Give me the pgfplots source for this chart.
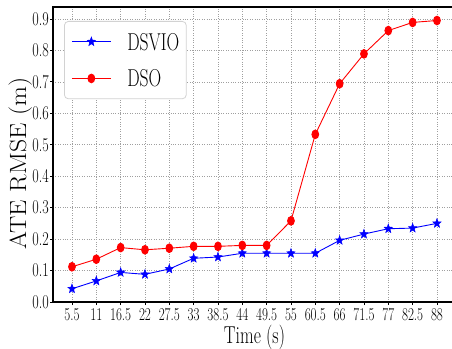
\documentclass[border=0pt]{standalone}
\usepackage{fontspec}
\setmainfont{Latin Modern Roman}[FakeStretch=0.72]
\newfontfamily\lmplain{Latin Modern Roman}
\usepackage{graphicx}
\usepackage{pgfplots}
\usepackage{pgfplotstable}
\pgfplotsset{compat=1.18}

\pgfdeclareplotmark{fstar}{%
  \pgfpathmoveto{\pgfpointpolar{90}{\pgfplotmarksize}}%
  \pgfpathlineto{\pgfpointpolar{126}{0.42\pgfplotmarksize}}%
  \pgfpathlineto{\pgfpointpolar{162}{\pgfplotmarksize}}%
  \pgfpathlineto{\pgfpointpolar{198}{0.42\pgfplotmarksize}}%
  \pgfpathlineto{\pgfpointpolar{234}{\pgfplotmarksize}}%
  \pgfpathlineto{\pgfpointpolar{270}{0.42\pgfplotmarksize}}%
  \pgfpathlineto{\pgfpointpolar{306}{\pgfplotmarksize}}%
  \pgfpathlineto{\pgfpointpolar{342}{0.42\pgfplotmarksize}}%
  \pgfpathlineto{\pgfpointpolar{18}{\pgfplotmarksize}}%
  \pgfpathlineto{\pgfpointpolar{54}{0.42\pgfplotmarksize}}%
  \pgfpathclose
  \pgfusepathqfillstroke}

\pgfplotstableread{
t ate
5.5 0.042
11 0.067
16.5 0.094
22 0.088
27.5 0.105
33 0.139
38.5 0.143
44 0.155
49.5 0.155
55 0.155
60.5 0.155
66 0.196
71.5 0.216
77 0.233
82.5 0.235
88 0.250
}\dsvio

\pgfplotstableread{
t ate
5.5 0.112
11 0.136
16.5 0.173
22 0.166
27.5 0.171
33 0.177
38.5 0.177
44 0.180
49.5 0.180
55 0.258
60.5 0.533
66 0.694
71.5 0.789
77 0.863
82.5 0.889
88 0.895
}\dso

\begin{document}
\begin{tikzpicture}
\begin{axis}[
  name=ax,
  scale only axis,
  width=399pt, height=295pt,
  xmin=1.21, xmax=91.4,
  ymin=0, ymax=0.938,
  axis x line*=bottom, axis y line*=left,
  xtick={5.5,11,16.5,22,27.5,33,38.5,44,49.5,55,60.5,66,71.5,77,82.5,88},
  ytick={0,0.1,0.2,0.3,0.4,0.5,0.6,0.7,0.8,0.9},
  /pgf/number format/assume math mode=true,
  yticklabel style={font=\fontsize{19.5}{21}\selectfont, inner sep=0pt, xshift=-1pt, /pgf/number format/.cd, fixed, fixed zerofill, precision=1},
  xticklabel style={font=\fontsize{18}{20}\selectfont, inner sep=0pt, yshift=-3pt},
  tick align=outside,
  major tick length=3pt,
  tick style={black, line width=0.8pt},
  axis line style={black, line width=1.1pt},
  grid=major,
  grid style={dotted, gray!75, line width=0.6pt},
  xlabel={Time (s)},
  xlabel style={font=\fontsize{24.5}{28}\selectfont, at={([xshift=201.5pt]rel axis cs:0,0)}, anchor=base, yshift=-41pt, inner sep=0pt},
  ylabel={\scalebox{1.1}[1]{ATE RMSE (m)}},
  ylabel style={font=\lmplain\fontsize{23.5}{28}\selectfont, at={([xshift=-27pt]rel axis cs:0,0.471)}, anchor=base, inner sep=0pt},
  legend cell align=left,
  legend style={at={([xshift=11pt,yshift=-14pt]rel axis cs:0,1)}, anchor=north west,
    draw=gray!35, line width=0.8pt, rounded corners=4pt, fill=white,
    font=\fontsize{24.4}{28}\selectfont,
    inner xsep=7pt, inner ysep=12pt, row sep=20pt,
    nodes={inner sep=0pt, text height=16.7pt, text depth=0pt},
    /tikz/every odd column/.style={column sep=16pt}},
  legend image code/.code={\draw[mark repeat=2,mark phase=2] plot coordinates {(0pt,0pt)(19.5pt,0pt)(39pt,0pt)};},
]
\addplot[blue, line width=0.9pt, mark=fstar, mark size=4.3pt, mark options={solid, yscale=1.1, line width=0.5pt}] table[x=t,y=ate] {\dsvio};
\addlegendentry{DSVIO}
\addplot[red, line width=0.9pt, mark=*, mark size=3.4pt, mark options={solid, yscale=1.28}] table[x=t,y=ate] {\dso};
\addlegendentry{DSO}
\end{axis}
\draw[black, line width=1.1pt] ([xshift=-0.55pt]ax.north west) -- (ax.north east);
\pgfresetboundingbox
\path ([shift={(-53pt,-46pt)}]ax.south west) rectangle ([shift={(399pt,302pt)}]ax.south west);
\end{tikzpicture}
\end{document}
